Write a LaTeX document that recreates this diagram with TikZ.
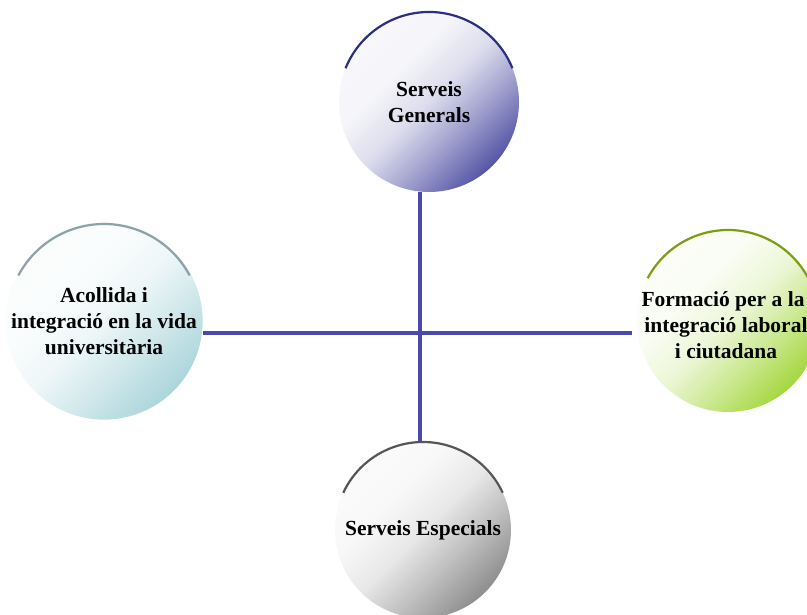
\documentclass[tikz,border=0pt]{standalone}
\usepackage{fontspec}
\setmainfont{Liberation Serif}
\definecolor{liniablava}{HTML}{4A4AAA}
\definecolor{genc}{HTML}{5050A4}
\definecolor{genv}{HTML}{2E2E7E}
\definecolor{acoc}{HTML}{A8D4DA}
\definecolor{acov}{HTML}{8CA2A6}
\definecolor{forc}{HTML}{A2D63A}
\definecolor{forv}{HTML}{7E9C10}
\definecolor{espc}{HTML}{8A8A8A}
\definecolor{espv}{HTML}{555555}
\colorlet{bolacol}{gray}
\pgfdeclareverticalshading[bolacol]{bolaombra}{100bp}{color(0bp)=(bolacol);
    color(24bp)=(bolacol); color(38bp)=(bolacol!55!white);
    color(50bp)=(bolacol!20!white); color(62bp)=(bolacol!6!white);
    color(100bp)=(white)}
\begin{document}
\begin{tikzpicture}[x=1pt,y=1pt,
    bola/.style={circle, inner sep=0pt, minimum size=#1, align=center,
        font=\bfseries\fontsize{21.5}{26}\selectfont},
    ombra/.style={/utils/exec={\colorlet{bolacol}{#1}}, shading=bolaombra,
        shading angle=45},
    vora/.style={line width=2.2pt, draw=#1},
    linia/.style={line width=3.2pt, draw=liniablava}]
    \useasboundingbox (0,0) rectangle (807,615);

    % 绘制四个圆
    \node[bola=180pt, ombra=genc] (generals) at (429,513) {Serveis\\Generals};
    \node[bola=194pt, ombra=acoc] (acollida) at (104,294) {Acollida i\\integració en la vida\\universitària};
    \node[bola=182pt, ombra=forc] (formacio) at (728,294) {};
    \node[bola=182pt] (formaciotext) at (723,290) {Formació per a la\\\hspace*{6pt}integració laboral\\\hspace*{6pt}i ciutadana};
    \node[bola=176pt, ombra=espc] (especials) at (423,85) {Serveis Especials};

    % 绘制上边的弧线
    \draw[vora=genv] (generals.center) ++(158:90) arc (158:22:90);
    \draw[vora=acov] (acollida.center) ++(152:97) arc (152:28:97);
    \draw[vora=forv] (formacio.center) ++(152:91) arc (152:28:91);
    \draw[vora=espv] (especials.center) ++(155:88) arc (155:25:88);

    % 绘制十字线
    \coordinate (creu) at (420,282);
    \draw[linia] (generals.south -| creu) -- (especials.north -| creu);
    \draw[linia, shorten >=5pt] (acollida.east |- creu) -- (formacio.west |- creu);
\end{tikzpicture}
\end{document}
